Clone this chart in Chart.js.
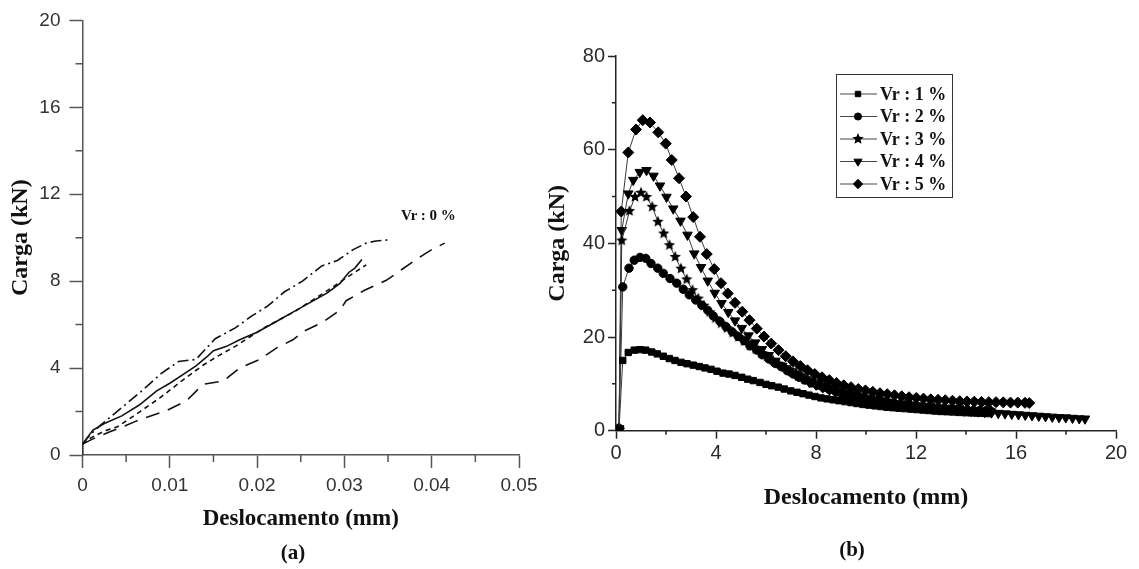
<!DOCTYPE html>
<html><head><meta charset="utf-8">
<script src="https://cdn.jsdelivr.net/npm/chart.js@4.4.1/dist/chart.umd.min.js"></script>
<style>
html,body{margin:0;padding:0;background:#fff;width:1139px;height:569px;overflow:hidden;}
canvas{position:absolute;left:0;top:0;}
.lbl{position:absolute;font-family:"Liberation Serif","Times New Roman",serif;font-weight:bold;color:#111;white-space:nowrap;}
</style></head><body>
<canvas id="ca" width="1139" height="569"></canvas>
<canvas id="cb" width="1139" height="569"></canvas>
<div class="lbl" style="left:401px;top:207px;font-size:15px;">Vr : 0 %</div>
<div class="lbl" style="left:293px;top:552px;transform:translate(-50%,-50%);font-size:21px;">(a)</div>
<div class="lbl" style="left:852px;top:549px;transform:translate(-50%,-50%);font-size:21px;">(b)</div>
<script>
// ---------- Chart (a): Vr 0 % ----------
const xTicksA = [0, 0.01, 0.02, 0.03, 0.04, 0.05];
const yTicksA = [0, 4, 8, 12, 16, 20];
const xMinorA = [0.005, 0.015, 0.025, 0.035, 0.045];
const yMinorA = [2, 6, 10, 14, 18];

const a1x = [0, 0, 0.0012, 0.0025, 0.0045, 0.0065, 0.0085, 0.0100, 0.0115, 0.0130, 0.0142, 0.0150, 0.0165, 0.0180, 0.0200, 0.0220, 0.0240, 0.0260, 0.0280, 0.0295, 0.0305, 0.0312, 0.0320];
const a1y = [0, 0.5, 1.15, 1.45, 1.8, 2.3, 2.95, 3.3, 3.7, 4.1, 4.5, 4.8, 5.0, 5.3, 5.65, 6.1, 6.55, 7.0, 7.45, 7.9, 8.4, 8.6, 9.0];
const a2x = [0, 0.0008, 0.002, 0.0035, 0.005, 0.0065, 0.0075, 0.009, 0.011, 0.013, 0.0152, 0.0175, 0.0194, 0.0212, 0.0231, 0.0252, 0.0274, 0.0292, 0.031, 0.0325, 0.0336, 0.035];
const a2y = [0.5, 0.9, 1.35, 1.85, 2.35, 2.85, 3.2, 3.75, 4.3, 4.4, 5.35, 5.85, 6.4, 6.85, 7.5, 8.0, 8.7, 8.95, 9.45, 9.75, 9.85, 9.9];
const a3x = [0, 0.001, 0.0025, 0.004, 0.0066, 0.0089, 0.0115, 0.0138, 0.0155, 0.0175, 0.0207, 0.0243, 0.0278, 0.0304, 0.0325];
const a3y = [0.5, 0.8, 1.1, 1.3, 2.0, 2.64, 3.45, 4.13, 4.55, 5.0, 5.83, 6.6, 7.5, 8.2, 8.75];
const a4x = [0, 0.0015, 0.003, 0.0046, 0.0062, 0.0073, 0.0096, 0.0119, 0.0138, 0.0161, 0.018, 0.0203, 0.0222, 0.0241, 0.0253, 0.0276, 0.0295, 0.0302, 0.0323, 0.0348, 0.0367, 0.0386, 0.040, 0.0415];
const a4y = [0.5, 0.8, 1.05, 1.3, 1.57, 1.73, 2.04, 2.49, 3.25, 3.4, 4.0, 4.4, 4.92, 5.3, 5.68, 6.13, 6.67, 7.1, 7.58, 8.04, 8.57, 9.1, 9.45, 9.75];

// ---------- Chart (b): Vr 1..5 % ----------
const seriesNames = ['Vr : 1 %', 'Vr : 2 %', 'Vr : 3 %', 'Vr : 4 %', 'Vr : 5 %'];
const xTicksB = [0, 4, 8, 12, 16, 20];
const yTicksB = [0, 20, 40, 60, 80];
const xMinorB = [2, 6, 10, 14, 18];
const yMinorB = [10, 30, 50, 70];

const x1 = [0, 0.12, 0.27, 0.49, 0.73, 0.96, 1.19, 1.43, 1.65, 1.89, 2.13, 2.36, 2.6, 2.84, 3.09, 3.33, 3.56, 3.8, 4.04, 4.28, 4.52, 4.76, 5.03, 5.27, 5.49, 5.76, 6.0, 6.23, 6.49, 6.73, 6.99, 7.24, 7.48, 7.72, 7.96, 8.2, 8.44, 8.68, 8.92, 9.16, 9.4, 9.64, 9.88, 10.12, 10.36, 10.6, 10.84, 11.08, 11.32, 11.56, 11.8, 12.04, 12.28, 12.52, 12.76, 13.0, 13.24, 13.48, 13.72, 13.96, 14.2, 14.44, 14.68, 14.92];
const y1 = [0, 0.3, 15.0, 16.7, 17.2, 17.3, 17.2, 16.8, 16.4, 15.9, 15.4, 15.0, 14.6, 14.3, 14.0, 13.7, 13.4, 13.1, 12.7, 12.3, 12.1, 11.8, 11.4, 11.0, 10.7, 10.3, 9.9, 9.6, 9.3, 8.9, 8.5, 8.2, 7.9, 7.6, 7.3, 7.0, 6.8, 6.6, 6.4, 6.2, 6.0, 5.8, 5.6, 5.45, 5.3, 5.15, 5.0, 4.9, 4.8, 4.7, 4.6, 4.5, 4.4, 4.3, 4.2, 4.1, 4.05, 4.0, 3.9, 3.85, 3.8, 3.75, 3.7, 3.65];
const x2 = [0, 0.12, 0.27, 0.52, 0.73, 0.96, 1.19, 1.4, 1.67, 1.89, 2.16, 2.43, 2.69, 2.93, 3.19, 3.43, 3.67, 3.89, 4.16, 4.4, 4.65, 4.89, 5.13, 5.36, 5.63, 5.85, 6.12, 6.36, 6.6, 6.85, 7.09, 7.33, 7.57, 7.81, 8.05, 8.29, 8.53, 8.77, 9.01, 9.25, 9.49, 9.73, 9.97, 10.21, 10.45, 10.69, 10.93, 11.17, 11.41, 11.65, 11.89, 12.13, 12.37, 12.61, 12.85, 13.09, 13.33, 13.57, 13.81, 14.05, 14.29, 14.53, 14.77, 15.0];
const y2 = [0, 0.5, 30.7, 34.7, 36.4, 37.0, 36.8, 35.7, 34.7, 33.6, 32.5, 31.5, 30.2, 29.0, 27.9, 26.8, 25.7, 24.5, 23.3, 22.2, 21.1, 20.1, 19.2, 18.1, 17.2, 16.2, 15.3, 14.4, 13.7, 12.8, 12.1, 11.4, 10.8, 10.2, 9.7, 9.2, 8.8, 8.4, 8.0, 7.7, 7.4, 7.1, 6.8, 6.55, 6.3, 6.1, 5.9, 5.7, 5.55, 5.4, 5.25, 5.1, 5.0, 4.9, 4.8, 4.7, 4.6, 4.5, 4.45, 4.4, 4.3, 4.25, 4.2, 4.15];
const x3 = [0, 0.12, 0.23, 0.54, 0.76, 1.0, 1.22, 1.45, 1.68, 1.91, 2.14, 2.37, 2.6, 2.83, 3.06, 3.29, 3.52, 3.75, 3.98, 4.21, 4.44, 4.67, 4.9, 5.13, 5.36, 5.59, 5.82, 6.05, 6.28, 6.51, 6.74, 6.97, 7.2, 7.43, 7.66, 7.89, 8.12, 8.35, 8.58, 8.81, 9.04, 9.27, 9.5, 9.73, 9.96, 10.19, 10.42, 10.65, 10.88, 11.11, 11.34, 11.57, 11.8, 12.03, 12.26, 12.49, 12.72, 12.95, 13.18, 13.41, 13.64, 13.87, 14.1, 14.33, 14.56, 14.79, 15.0];
const y3 = [0, 0.5, 40.6, 46.9, 49.9, 50.8, 49.9, 47.8, 44.6, 42.1, 39.6, 37.1, 34.6, 32.3, 30.0, 28.2, 26.7, 25.3, 24.0, 22.9, 21.9, 20.9, 20.0, 19.1, 18.2, 17.4, 16.6, 15.8, 15.0, 14.3, 13.6, 13.0, 12.4, 11.8, 11.2, 10.7, 10.2, 9.8, 9.4, 9.0, 8.6, 8.25, 7.9, 7.6, 7.3, 7.0, 6.75, 6.5, 6.3, 6.1, 5.9, 5.75, 5.6, 5.45, 5.3, 5.2, 5.1, 5.0, 4.9, 4.8, 4.7, 4.65, 4.6, 4.5, 4.45, 4.4, 4.35];
const x4 = [0, 0.12, 0.23, 0.49, 0.69, 0.95, 1.22, 1.5, 1.76, 2.02, 2.29, 2.58, 2.86, 3.13, 3.4, 3.67, 3.95, 4.22, 4.49, 4.76, 5.03, 5.3, 5.57, 5.84, 6.11, 6.38, 6.65, 6.92, 7.19, 7.46, 7.73, 8.0, 8.27, 8.54, 8.81, 9.08, 9.35, 9.62, 9.89, 10.16, 10.43, 10.7, 10.97, 11.24, 11.51, 11.78, 12.05, 12.32, 12.59, 12.86, 13.13, 13.4, 13.67, 13.94, 14.21, 14.48, 14.75, 15.02, 15.29, 15.56, 15.83, 16.1, 16.37, 16.64, 16.91, 17.18, 17.45, 17.72, 17.99, 18.26, 18.53, 18.76];
const y4 = [0, 0.5, 42.8, 50.6, 53.5, 55.2, 55.6, 54.4, 52.3, 49.9, 47.4, 44.8, 41.8, 37.8, 34.9, 32.0, 29.4, 27.2, 25.3, 23.5, 21.9, 20.3, 18.8, 17.4, 16.1, 14.9, 13.8, 12.8, 11.9, 11.1, 10.4, 9.8, 9.2, 8.7, 8.2, 7.8, 7.4, 7.05, 6.75, 6.45, 6.2, 5.95, 5.75, 5.55, 5.35, 5.2, 5.05, 4.9, 4.75, 4.65, 4.55, 4.45, 4.35, 4.25, 4.15, 4.05, 3.95, 3.85, 3.75, 3.65, 3.55, 3.45, 3.35, 3.25, 3.15, 3.05, 2.95, 2.85, 2.8, 2.7, 2.6, 2.55];
const x5 = [0, 0.12, 0.21, 0.49, 0.8, 1.07, 1.36, 1.69, 1.99, 2.23, 2.52, 2.8, 3.09, 3.36, 3.63, 3.93, 4.2, 4.47, 4.76, 5.05, 5.34, 5.63, 5.92, 6.21, 6.5, 6.79, 7.08, 7.37, 7.66, 7.95, 8.24, 8.53, 8.82, 9.11, 9.4, 9.69, 9.98, 10.27, 10.56, 10.85, 11.14, 11.43, 11.72, 12.01, 12.3, 12.59, 12.88, 13.17, 13.46, 13.75, 14.04, 14.33, 14.62, 14.91, 15.2, 15.49, 15.78, 16.07, 16.36, 16.53];
const y5 = [0, 0.5, 46.8, 59.4, 64.3, 66.3, 65.8, 63.7, 61.3, 57.8, 53.9, 50.0, 45.6, 41.4, 37.7, 34.5, 31.5, 29.3, 27.3, 25.4, 23.6, 21.8, 20.1, 18.6, 17.2, 15.9, 14.8, 13.8, 12.9, 12.1, 11.4, 10.8, 10.2, 9.7, 9.3, 8.9, 8.6, 8.3, 8.0, 7.8, 7.55, 7.35, 7.15, 7.0, 6.85, 6.7, 6.6, 6.5, 6.4, 6.3, 6.25, 6.2, 6.15, 6.1, 6.1, 6.05, 6.0, 6.0, 5.95, 5.9];

// ---------- helpers ----------
const pts = (xs, ys) => xs.map((x, i) => ({x: x, y: ys[i]}));
const SERIF = '"Liberation Serif","Times New Roman",serif';
const SANS = '"Liberation Sans",Arial,sans-serif';

function makeStar(r) {
  const s = Math.ceil(r * 2 + 2);
  const c = document.createElement('canvas');
  c.width = s; c.height = s;
  const g = c.getContext('2d');
  g.fillStyle = '#000';
  g.beginPath();
  for (let i = 0; i < 10; i++) {
    const rr = (i % 2) ? r * 0.45 : r;
    const ang = -Math.PI / 2 + i * Math.PI / 5;
    g.lineTo(s / 2 + rr * Math.cos(ang), s / 2 + rr * Math.sin(ang));
  }
  g.closePath();
  g.fill();
  return c;
}
const starImg = makeStar(6);

const minorTickPlugin = {
  id: 'minorTicks',
  afterDraw(chart, args, o) {
    const ctx = chart.ctx, xs = chart.scales.x, ys = chart.scales.y;
    ctx.save();
    ctx.strokeStyle = o.color; ctx.lineWidth = o.width;
    ctx.beginPath();
    (o.x || []).forEach(v => { const p = xs.getPixelForValue(v); ctx.moveTo(p, xs.top); ctx.lineTo(p, xs.top + o.length); });
    (o.y || []).forEach(v => { const p = ys.getPixelForValue(v); ctx.moveTo(ys.right, p); ctx.lineTo(ys.right - o.length, p); });
    ctx.stroke();
    ctx.restore();
  }
};

const boxLegendPlugin = {
  id: 'boxLegend',
  afterDraw(chart, args, o) {
    if (!o.display) return;
    const ctx = chart.ctx;
    ctx.save();
    ctx.fillStyle = '#fff';
    ctx.fillRect(o.left, o.top, o.width, o.height);
    ctx.strokeStyle = '#333'; ctx.lineWidth = 1;
    ctx.strokeRect(o.left + 0.5, o.top + 0.5, o.width, o.height);
    chart.data.datasets.forEach((ds, i) => {
      const y = o.top + o.firstRow + i * o.rowGap;
      ctx.strokeStyle = '#444'; ctx.lineWidth = 1;
      ctx.beginPath(); ctx.moveTo(o.left + 4, y); ctx.lineTo(o.left + 41, y); ctx.stroke();
      ctx.fillStyle = '#000'; ctx.strokeStyle = '#000';
      Chart.helpers.drawPoint(ctx, {pointStyle: ds.pointStyle, rotation: ds.pointRotation || 0, radius: ds.pointRadius * 0.85, borderWidth: 1}, o.left + 22, y);
      ctx.fillStyle = '#111';
      ctx.font = o.font; ctx.textBaseline = 'middle'; ctx.textAlign = 'left';
      ctx.fillText(ds.label, o.left + 44, y + 1);
    });
    ctx.restore();
  }
};

// ---------- chart (a) ----------
const lineA = (label, xs, ys, dash) => ({
  label: label, data: pts(xs, ys), borderColor: '#111', borderWidth: 1.6,
  borderDash: dash, pointRadius: 0, tension: 0, fill: false
});

new Chart(document.getElementById('ca'), {
  type: 'line',
  data: { datasets: [
    lineA('A', a1x, a1y, []),
    lineA('B', a2x, a2y, [11, 4, 2, 4]),
    lineA('C', a3x, a3y, [5, 4]),
    lineA('D', a4x, a4y, [14, 9])
  ]},
  options: {
    responsive: false, animation: false, devicePixelRatio: 1,
    layout: { padding: { left: 0, top: 16, right: 620, bottom: 0 } },
    plugins: {
      legend: { display: false }, tooltip: { enabled: false },
      minorTicks: { x: xMinorA, y: yMinorA, length: 7, color: '#555', width: 1.5 }
    },
    scales: {
      x: {
        type: 'linear', min: 0, max: 0.05,
        afterBuildTicks: s => { s.ticks = xTicksA.map(v => ({value: v})); },
        afterFit: s => { s.height = 569 - 455; },
        ticks: { callback: v => v === 0 ? '0' : v.toFixed(2), font: {family: SANS, size: 19}, color: '#333', padding: 6, maxRotation: 0, autoSkip: false },
        grid: { display: true, drawOnChartArea: false, drawTicks: true, tickLength: 13, tickColor: '#555', tickWidth: 1.5 },
        border: { display: true, color: '#555', width: 1.5 },
        title: { display: true, text: 'Deslocamento (mm)', font: {family: SERIF, size: 23, weight: 'bold'}, color: '#111', padding: {top: 0, bottom: 36} }
      },
      y: {
        type: 'linear', min: 0, max: 20,
        afterBuildTicks: s => { s.ticks = yTicksA.map(v => ({value: v})); },
        afterFit: s => { s.width = 82.5; },
        ticks: { font: {family: SANS, size: 19}, color: '#333', padding: 9 },
        grid: { display: true, drawOnChartArea: false, drawTicks: true, tickLength: 13, tickColor: '#555', tickWidth: 1.5 },
        border: { display: true, color: '#555', width: 1.5 },
        title: { display: true, text: 'Carga (kN)', font: {family: SERIF, size: 24, weight: 'bold'}, color: '#111', padding: {top: 6, bottom: 0} }
      }
    }
  },
  plugins: [minorTickPlugin]
});

// ---------- chart (b) ----------
const serB = (i, xs, ys, style, radius, rot) => ({
  label: seriesNames[i], data: pts(xs, ys), borderColor: '#3a3a3a', borderWidth: 1,
  pointStyle: style, pointRadius: radius, pointRotation: rot || 0,
  pointBackgroundColor: '#000', pointBorderColor: '#000', pointBorderWidth: 1,
  tension: 0, fill: false
});

new Chart(document.getElementById('cb'), {
  type: 'line',
  data: { datasets: [
    serB(0, x1, y1, 'rect', 4.5),
    serB(1, x2, y2, 'circle', 4.2),
    serB(2, x3, y3, starImg, 6),
    serB(3, x4, y4, 'triangle', 5.5, 180),
    serB(4, x5, y5, 'rectRot', 5.5)
  ]},
  options: {
    responsive: false, animation: false, devicePixelRatio: 1,
    layout: { padding: { left: 540, top: 56, right: 23, bottom: 0 } },
    plugins: {
      legend: { display: false }, tooltip: { enabled: false },
      minorTicks: { x: xMinorB, y: yMinorB, length: 4, color: '#222', width: 1.5 },
      boxLegend: { display: true, left: 836, top: 74, width: 116, height: 123, firstRow: 20, rowGap: 22.5,
                   font: 'bold 18px "Liberation Serif","Times New Roman",serif' }
    },
    scales: {
      x: {
        type: 'linear', min: 0, max: 20,
        afterBuildTicks: s => { s.ticks = xTicksB.map(v => ({value: v})); },
        afterFit: s => { s.height = 569 - 430.7; },
        ticks: { font: {family: SANS, size: 20}, color: '#2a2a2a', padding: 3, maxRotation: 0, autoSkip: false },
        grid: { display: true, drawOnChartArea: false, drawTicks: true, tickLength: 8, tickColor: '#222', tickWidth: 1.5 },
        border: { display: true, color: '#222', width: 1.5 },
        title: { display: true, text: 'Deslocamento (mm)', font: {family: SERIF, size: 24, weight: 'bold'}, color: '#111', padding: {top: 0, bottom: 57} }
      },
      y: {
        type: 'linear', min: 0, max: 80,
        afterBuildTicks: s => { s.ticks = yTicksB.map(v => ({value: v})); },
        afterFit: s => { s.width = 76; },
        ticks: { font: {family: SANS, size: 20}, color: '#2a2a2a', padding: 3 },
        grid: { display: true, drawOnChartArea: false, drawTicks: true, tickLength: 8, tickColor: '#222', tickWidth: 1.5 },
        border: { display: true, color: '#222', width: 1.5 },
        title: { display: true, text: 'Carga (kN)', font: {family: SERIF, size: 24, weight: 'bold'}, color: '#111', padding: {top: 3, bottom: 0} }
      }
    }
  },
  plugins: [minorTickPlugin, boxLegendPlugin]
});
</script>
</body></html>
